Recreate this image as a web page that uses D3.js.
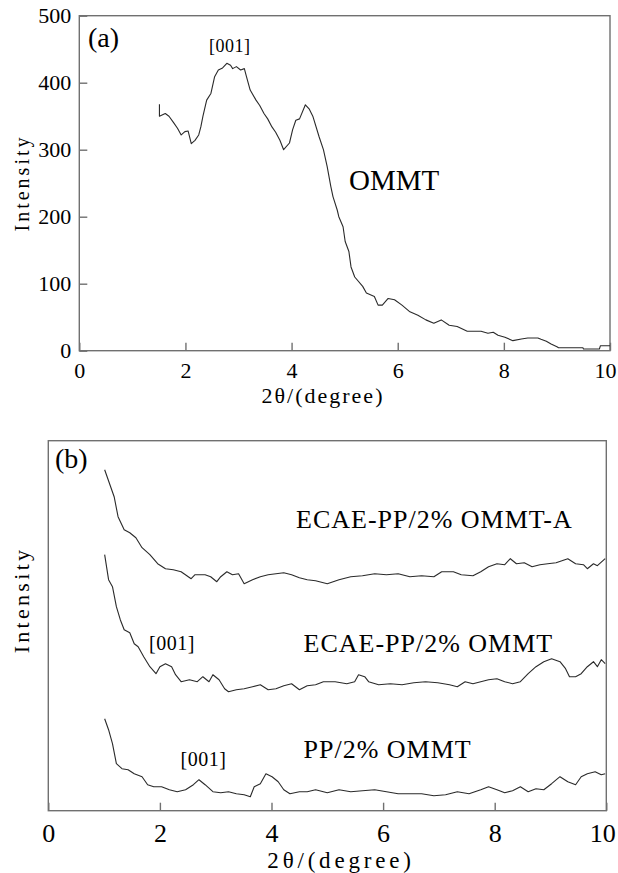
<!DOCTYPE html>
<html lang="en">
<head>
<meta charset="UTF-8" />
<title>XRD patterns: OMMT and PP/OMMT nanocomposites</title>
<script src="https://d3js.org/d3.v7.min.js"></script>
<style>
  body { margin: 0; background: #fff; }
  svg { display: block; background: #fff; }
  .frame { fill: none; stroke: #707070; stroke-width: 1.4; }
  .trace { fill: none; stroke: #2a2a2a; stroke-width: 1.1; stroke-linejoin: round; }
  .axis path { display: none; }
  .axis line { stroke: #707070; stroke-width: 1.4; }
</style>
</head>
<body>
<svg width="618" height="873"></svg>
<script>
const SERIF = '"Liberation Serif", "Times New Roman", Times, serif';

// tick values
const xTicks = [0, 2, 4, 6, 8, 10];
const yTicksA = [0, 100, 200, 300, 400, 500];

// (a) OMMT pattern: [2theta, intensity]
const ommt = [
  [1.51, 368], [1.51, 350], [1.62, 354], [1.69, 350], [1.78, 340], [1.85, 332],
  [1.92, 322], [1.99, 327], [2.05, 328], [2.11, 309], [2.18, 314], [2.25, 322],
  [2.29, 334], [2.33, 350], [2.40, 374], [2.48, 384], [2.55, 409], [2.62, 419],
  [2.70, 422], [2.78, 429], [2.85, 426], [2.89, 421], [2.96, 424], [3.04, 419],
  [3.11, 421], [3.15, 409], [3.22, 389], [3.33, 374], [3.40, 366], [3.48, 354],
  [3.55, 346], [3.63, 334], [3.70, 326], [3.78, 314], [3.85, 300], [3.96, 310],
  [4.02, 330], [4.08, 344], [4.15, 346], [4.26, 367], [4.33, 361], [4.40, 350],
  [4.52, 319], [4.60, 300], [4.67, 275], [4.74, 245],
  [4.78, 230], [4.86, 210], [4.89, 200], [4.97, 185], [5.01, 163], [5.08, 148],
  [5.12, 125], [5.19, 110], [5.34, 96], [5.41, 86], [5.56, 81], [5.63, 68],
  [5.71, 68], [5.82, 78], [5.94, 76], [6.08, 68], [6.23, 58], [6.38, 53],
  [6.53, 46], [6.68, 41], [6.82, 46], [6.97, 38], [7.12, 36], [7.31, 29],
  [7.57, 29], [7.70, 26], [7.80, 27.5], [7.89, 23], [8.02, 20], [8.17, 15],
  [8.33, 17.5], [8.45, 19], [8.64, 19], [8.70, 17], [8.80, 14], [8.89, 10],
  [9.00, 6], [9.03, 4.5], [9.49, 4.5], [9.50, 2.5], [9.80, 2.5], [9.82, 7.5],
  [10.0, 7.5]
];

// (b) patterns, arbitrary intensity units
const ecaeA = [
  [1.01, 341], [1.18, 314], [1.25, 294], [1.36, 281], [1.46, 278], [1.57, 273],
  [1.68, 263], [1.82, 256], [1.96, 247], [2.10, 242], [2.24, 241], [2.38, 239],
  [2.56, 232], [2.63, 236], [2.81, 236], [2.91, 234], [3.02, 229], [3.09, 234],
  [3.20, 239], [3.30, 236], [3.41, 237], [3.51, 227], [3.66, 231], [3.80, 234],
  [3.94, 236], [4.08, 237], [4.22, 238], [4.36, 236], [4.50, 233], [4.64, 231],
  [4.79, 230], [5.00, 227], [5.21, 231], [5.42, 234], [5.63, 235], [5.85, 237],
  [6.06, 236], [6.27, 237], [6.48, 234], [6.69, 235], [6.91, 234], [7.05, 239],
  [7.26, 239], [7.40, 236], [7.61, 235], [7.75, 239], [7.89, 244], [8.04, 247],
  [8.18, 246], [8.28, 252], [8.39, 247], [8.53, 248], [8.67, 244], [8.81, 246],
  [8.95, 247], [9.10, 248], [9.31, 252], [9.45, 247], [9.59, 246], [9.66, 242],
  [9.77, 247], [9.84, 245], [9.98, 252]
];

const ecae = [
  [1.01, 256], [1.08, 231], [1.15, 224], [1.22, 204], [1.29, 191], [1.36, 181],
  [1.46, 178], [1.54, 167], [1.61, 164], [1.71, 154], [1.82, 144], [1.93, 137],
  [2.00, 144], [2.10, 147], [2.21, 144], [2.28, 136], [2.38, 129], [2.53, 131],
  [2.67, 129], [2.77, 134], [2.88, 129], [2.95, 136], [3.06, 131], [3.16, 122],
  [3.23, 119], [3.37, 121], [3.51, 122], [3.66, 124], [3.80, 126], [3.94, 121],
  [4.08, 122], [4.22, 125], [4.36, 127], [4.50, 121], [4.64, 125], [4.79, 126],
  [4.93, 129], [5.14, 129], [5.35, 127], [5.49, 129], [5.56, 136], [5.67, 134],
  [5.74, 129], [5.92, 126], [6.13, 127], [6.34, 126], [6.55, 128], [6.76, 129],
  [6.98, 128], [7.19, 126], [7.33, 124], [7.47, 129], [7.61, 127], [7.75, 129],
  [7.89, 131], [8.04, 132], [8.18, 129], [8.32, 127], [8.46, 129], [8.60, 137],
  [8.74, 144], [8.88, 149], [9.02, 152], [9.17, 149], [9.27, 142], [9.34, 134],
  [9.45, 134], [9.55, 137], [9.66, 144], [9.77, 149], [9.84, 144], [9.91, 151],
  [9.98, 147]
];

const ppOmmt = [
  [1.01, 92], [1.08, 81], [1.15, 67], [1.22, 47], [1.32, 42], [1.43, 41],
  [1.54, 37], [1.68, 34], [1.78, 26], [1.89, 24], [2.03, 24], [2.17, 21],
  [2.31, 19], [2.46, 21], [2.60, 26], [2.70, 31], [2.81, 26], [2.95, 19],
  [3.09, 18], [3.23, 19], [3.37, 17], [3.51, 16], [3.62, 14], [3.69, 24],
  [3.80, 27], [3.90, 37], [4.01, 34], [4.12, 29], [4.22, 21], [4.33, 17],
  [4.50, 19], [4.64, 19], [4.79, 21], [5.00, 18], [5.21, 21], [5.42, 19],
  [5.63, 20], [5.85, 21], [6.06, 19], [6.27, 17], [6.48, 17], [6.69, 17],
  [6.91, 15], [7.12, 16], [7.33, 19], [7.54, 17], [7.75, 21], [7.89, 24],
  [8.04, 21], [8.18, 18], [8.32, 20], [8.46, 24], [8.60, 19], [8.74, 22],
  [8.88, 21], [9.02, 27], [9.17, 34], [9.31, 29], [9.45, 26], [9.55, 34],
  [9.66, 37], [9.80, 39], [9.91, 36], [9.98, 37]
];

const svg = d3.select('svg');

// serif labels, pull the last tick label in a bit like the original
function styleAxis(g, size, lastShift) {
  g.attr('font-family', SERIF).attr('font-size', size);
  g.selectAll('text')
    .attr('fill', '#000')
    .attr('font-family', SERIF)
    .attr('dx', (d) => (d === 10 ? -lastShift : 0));
}

function label(txt, x, y, size, spacing, anchor) {
  return svg.append('text')
    .attr('x', x)
    .attr('y', y)
    .attr('fill', '#000')
    .attr('font-family', SERIF)
    .attr('font-size', size)
    .attr('letter-spacing', spacing || 0)
    .attr('text-anchor', anchor || 'start')
    .text(txt);
}

function yLabel(x, y, size, spacing) {
  svg.append('text')
    .attr('transform', `translate(${x},${y}) rotate(-90)`)
    .attr('fill', '#000')
    .attr('font-family', SERIF)
    .attr('font-size', size)
    .attr('letter-spacing', spacing)
    .attr('text-anchor', 'middle')
    .text('Intensity');
}

// ---------- panel (a) ----------
const xA = d3.scaleLinear().domain([0, 10]).range([79.3, 610]);
const yA = d3.scaleLinear().domain([0, 500]).range([350.7, 15.7]);

svg.append('rect')
  .attr('class', 'frame')
  .attr('x', xA(0)).attr('y', yA(500))
  .attr('width', xA(10) - xA(0)).attr('height', yA(0) - yA(500));

svg.append('g')
  .attr('class', 'axis')
  .attr('transform', `translate(0,${yA(0)})`)
  .call(d3.axisBottom(xA).tickValues(xTicks).tickSize(-8).tickPadding(12))
  .call((g) => styleAxis(g, 22, 5));

svg.append('g')
  .attr('class', 'axis')
  .attr('transform', `translate(${xA(0)},0)`)
  .call(d3.axisLeft(yA).tickValues(yTicksA).tickSize(-8).tickPadding(8))
  .call((g) => styleAxis(g, 22, 0));

const lineA = d3.line().x((d) => xA(d[0])).y((d) => yA(d[1]));
svg.append('path').datum(ommt).attr('class', 'trace').attr('d', lineA);

label('(a)', 88, 46.5, 28);
label('[001]', 209, 51.5, 18, 0.5);
label('OMMT', 349, 190, 29);
label('2θ/(degree)', 323, 403, 22, 2, 'middle');
yLabel(28.5, 183, 20, 3);

// ---------- panel (b) ----------
const xB = d3.scaleLinear().domain([0, 10]).range([48.3, 606.3]);
const yB = d3.scaleLinear().domain([0, 370]).range([810.7, 440.7]);

svg.append('rect')
  .attr('class', 'frame')
  .attr('x', xB(0)).attr('y', yB(370))
  .attr('width', xB(10) - xB(0)).attr('height', yB(0) - yB(370));

svg.append('g')
  .attr('class', 'axis')
  .attr('transform', `translate(0,${yB(0)})`)
  .call(d3.axisBottom(xB).tickValues(xTicks).tickSize(-8).tickPadding(13))
  .call((g) => styleAxis(g, 26, 4));

const lineB = d3.line().x((d) => xB(d[0])).y((d) => yB(d[1]));
[ecaeA, ecae, ppOmmt].forEach((s) => {
  svg.append('path').datum(s).attr('class', 'trace').attr('d', lineB);
});

label('(b)', 55, 468, 28);
label('ECAE-PP/2% OMMT-A', 296, 528, 26, 1);
label('ECAE-PP/2% OMMT', 303.5, 651.5, 26, 1);
label('PP/2% OMMT', 303.5, 758, 26, 1);
label('[001]', 149, 650, 20, 0.5);
label('[001]', 180.5, 766, 20, 0.5);
label('2θ/(degree)', 341, 868, 23, 3.8, 'middle');
yLabel(28.5, 600, 22, 3.3);
</script>
</body>
</html>
